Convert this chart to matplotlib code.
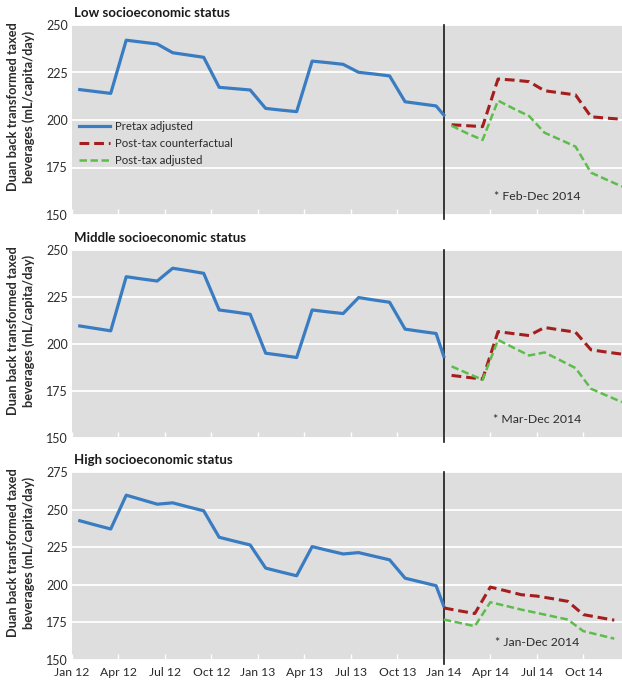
import matplotlib
matplotlib.use("Agg")
import matplotlib.pyplot as plt

plt.rcParams['font.family'] = ['Lato', 'DejaVu Sans']

# ---- data ----
tick_months = [0, 3, 6, 9, 12, 15, 18, 21, 24, 27, 30, 33]
tick_labels = ["Jan 12", "Apr 12", "Jul 12", "Oct 12", "Jan 13", "Apr 13",
               "Jul 13", "Oct 13", "Jan 14", "Apr 14", "Jul 14", "Oct 14"]
tax_month = 24

months_pre = [i + 0.5 for i in range(24)] + [24]
months_post = [24.5 + i for i in range(12)]
months_post_high = [24 + i for i in range(12)]

low_pre = [216, 215, 214, 242, 241, 240, 235.4, 234.2, 233, 217.2, 216.5, 215.8,
           206.1, 205.2, 204.4, 231, 230.2, 229.3, 225.1, 224.2, 223.2, 209.6, 208.5, 207.4,
           202.6]
low_cf = [197.5, 197, 196.5, 221.6, 221, 220.2, 215.4, 214.3, 213.2, 201.7, 201, 200.4]
low_post = [197, 193, 189.5, 210.2, 206, 202.1, 193.3, 189.7, 186, 172.3, 168.6, 165]

mid_pre = [209.6, 208.3, 207, 235.8, 234.6, 233.5, 240.3, 239, 237.6, 218.1, 217, 215.8,
           195.1, 194, 192.8, 218.1, 217.1, 216.2, 224.7, 223.4, 222.2, 207.9, 206.7, 205.6,
           193.4]
mid_cf = [183.3, 182.3, 181.3, 206.6, 205.5, 204.5, 208.8, 207.5, 206.3, 196.9, 195.7, 194.6]
mid_post = [188.1, 184.5, 181, 202.2, 198, 193.9, 195.5, 191.4, 187.2, 176.2, 172.6, 169.1]

high_pre = [242.6, 239.8, 237.1, 259.6, 256.6, 253.6, 254.5, 251.8, 249.2, 231.6, 229, 226.5,
            211.1, 208.5, 206, 225.4, 222.9, 220.5, 221.4, 219, 216.6, 204.4, 201.9, 199.4,
            185.7]
high_cf = [184.6, 182.7, 180.9, 198.5, 196, 193.4, 192.5, 190.8, 189, 180.2, 178.3, 176.5]
high_post = [176.9, 174.7, 172.5, 188.4, 186, 183.5, 181.3, 179.1, 176.9, 169.2, 166.7, 164.2]

titles = ["Low socioeconomic status", "Middle socioeconomic status", "High socioeconomic status"]
notes = ["* Feb-Dec 2014", "* Mar-Dec 2014", "* Jan-Dec 2014"]
note_pos = [(30.05, 160), (30.0, 159.7), (30.05, 161.7)]
yticks_list = [[150, 175, 200, 225, 250], [150, 175, 200, 225, 250],
               [150, 175, 200, 225, 250, 275]]
ylims = [(150, 250), (150, 250), (150, 275)]
legend_labels = ["Pretax adjusted", "Post-tax counterfactual", "Post-tax adjusted"]

series = [
    (low_pre, months_post, low_cf, low_post),
    (mid_pre, months_post, mid_cf, mid_post),
    (high_pre, months_post_high, high_cf, high_post),
]

# ---- style ----
W, H = 622, 680
fig = plt.figure(figsize=(W / 100, H / 100), dpi=100)
bg = "#dedede"
blue = "#3a7cc2"
red = "#a51e1e"
green = "#5cbd4b"
text_col = "#2b2b2b"

# axes boxes in pixels (left, top, right, bottom)
boxes = [(72, 25, 622, 215), (72, 250, 622, 438), (72, 472, 622, 660)]

for k, (box, (pre, mpost, cf, post)) in enumerate(zip(boxes, series)):
    l, t, r, b = box
    ax = fig.add_axes([l / W, 1 - b / H, (r - l) / W, (b - t) / H])
    ax.set_facecolor(bg)
    for s in ax.spines.values():
        s.set_visible(False)
    ax.set_xlim(0, 35.5)
    ax.set_ylim(*ylims[k])
    ax.set_yticks(yticks_list[k])
    ax.yaxis.grid(True, color="white", linewidth=1.3)
    ax.set_axisbelow(True)
    ax.tick_params(axis="y", length=0, labelsize=9, labelcolor=text_col, pad=3)
    ax.set_xticks(tick_months)
    ax.tick_params(axis="x", direction="in", length=4, color="white", width=1,
                   labelsize=8.8, labelcolor=text_col, pad=5)
    if k < 2:
        ax.set_xticklabels([])
    else:
        ax.set_xticklabels(tick_labels)

    ax.axvline(tax_month, color="#1a1a1a", linewidth=1.2, ymin=-0.02, ymax=1.0,
               clip_on=False, zorder=4)

    ln1, = ax.plot(months_pre, pre, color=blue, linewidth=2.3, solid_joinstyle="round",
                   zorder=5)
    ln2, = ax.plot(mpost, cf, color=red, linewidth=2.2, linestyle=(0, (3.2, 1.6)),
                   zorder=5)
    ln3, = ax.plot(mpost, post, color=green, linewidth=1.8, linestyle=(0, (3.0, 1.4)),
                   zorder=5)

    ax.text(0.004, 1 + 8 / (b - t), titles[k], transform=ax.transAxes,
            fontsize=9.5, fontweight="bold", color="#1a1a1a", ha="left", va="baseline")
    ax.text(-0.093, 0.57, "Duan back transformed taxed\nbeverages (mL/capita/day)",
            transform=ax.transAxes, rotation=90, ha="center", va="center",
            multialignment="center", fontsize=9.2, fontweight="bold", color=text_col,
            linespacing=1.25)
    ax.text(note_pos[k][0], note_pos[k][1], notes[k], fontsize=8.8, color=text_col,
            ha="center", va="center", zorder=6)

    if k == 0:
        ax.legend([ln1, ln2, ln3], legend_labels, loc="upper left",
                  bbox_to_anchor=(0.005, 0.52), borderaxespad=0, frameon=False,
                  fontsize=8.2, handlelength=2.7, handletextpad=0.45,
                  labelspacing=0.55, labelcolor=text_col)

fig.savefig("out.png", dpi=100, facecolor="white")
